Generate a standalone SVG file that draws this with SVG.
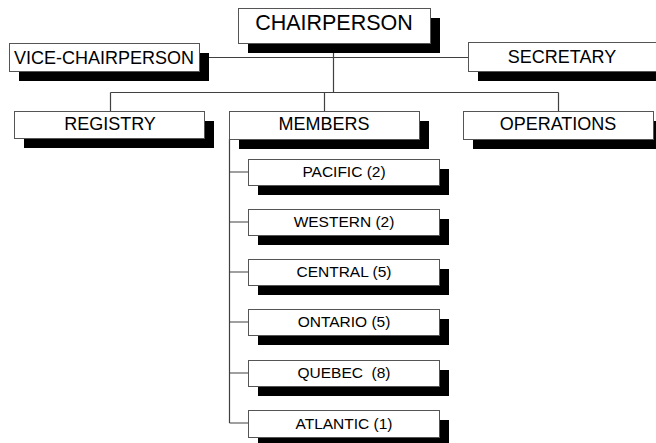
<svg xmlns="http://www.w3.org/2000/svg" width="656" height="443" viewBox="0 0 656 443">
<style>
.sh{fill:#000}
.bx{fill:#fff;stroke:#555;stroke-width:1}
.t{font-family:"Liberation Sans",Arial,sans-serif;fill:#000;text-anchor:middle}
.l{font-size:18px}
.s{font-size:15.5px}
.c{font-size:21.5px}
.cn{stroke:#404040;stroke-width:1.2;fill:none}
</style>
<rect width="656" height="443" fill="#fff"/>
<g id="connectors">
<path class="cn" d="M199 57.5H468M333.5 43V92.5M110.5 92.5H558.5M110.5 92.5V111M324.5 92.5V111M558.5 92.5V111"/>
<path class="cn" d="M229.5 139V423M229.5 172H248M229.5 222H248M229.5 272H248M229.5 322H248M229.5 373H248M229.5 423H248"/>
</g>
<g id="chairperson"><rect class="sh" x="248" y="18" width="192" height="35"/><rect class="bx" x="238.5" y="8.5" width="192" height="35"/><text class="t c" x="334" y="29.5">CHAIRPERSON</text></g>
<g id="vice-chairperson"><rect class="sh" x="19" y="53" width="190" height="28"/><rect class="bx" x="9.5" y="43.5" width="190" height="28"/><text class="t l" x="104" y="63.5">VICE-CHAIRPERSON</text></g>
<g id="secretary"><rect class="sh" x="478" y="52" width="190" height="29"/><rect class="bx" x="468.5" y="42.5" width="190" height="29"/><text class="t l" x="562" y="63">SECRETARY</text></g>
<g id="registry"><rect class="sh" x="24" y="121" width="190" height="27"/><rect class="bx" x="14.5" y="111.5" width="190" height="27"/><text class="t l" x="110" y="130">REGISTRY</text></g>
<g id="members"><rect class="sh" x="239" y="121" width="190" height="28"/><rect class="bx" x="229.5" y="111.5" width="190" height="28"/><text class="t l" x="324" y="130">MEMBERS</text></g>
<g id="operations"><rect class="sh" x="473" y="121" width="190" height="28"/><rect class="bx" x="463.5" y="111.5" width="190" height="28"/><text class="t l" x="558" y="130">OPERATIONS</text></g>
<g id="pacific"><rect class="sh" x="258" y="169" width="191" height="26"/><rect class="bx" x="248.5" y="159.5" width="191" height="26"/><text class="t s" x="344" y="176.5">PACIFIC (2)</text></g>
<g id="western"><rect class="sh" x="258" y="219" width="191" height="26"/><rect class="bx" x="248.5" y="209.5" width="191" height="26"/><text class="t s" x="344" y="226.5">WESTERN (2)</text></g>
<g id="central"><rect class="sh" x="258" y="269" width="191" height="26"/><rect class="bx" x="248.5" y="259.5" width="191" height="26"/><text class="t s" x="344" y="276.5">CENTRAL (5)</text></g>
<g id="ontario"><rect class="sh" x="258" y="319" width="191" height="26"/><rect class="bx" x="248.5" y="309.5" width="191" height="26"/><text class="t s" x="344" y="326.5">ONTARIO (5)</text></g>
<g id="quebec"><rect class="sh" x="258" y="370" width="191" height="26"/><rect class="bx" x="248.5" y="360.5" width="191" height="26"/><text class="t s" x="344" y="377.5" xml:space="preserve">QUEBEC  (8)</text></g>
<g id="atlantic"><rect class="sh" x="258" y="420" width="191" height="27"/><rect class="bx" x="248.5" y="410.5" width="191" height="27"/><text class="t s" x="344" y="428.5">ATLANTIC (1)</text></g>
</svg>
